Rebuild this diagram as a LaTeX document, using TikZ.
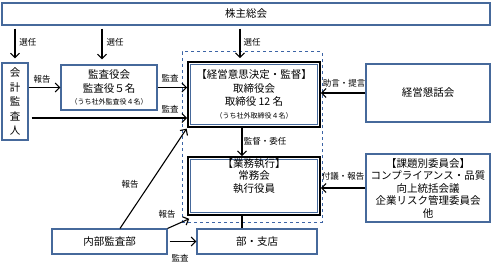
\documentclass[tikz,border=0pt]{standalone}
\usepackage{fontspec}
\setmainfont{Noto Sans CJK JP}
\usetikzlibrary{arrows.meta}
\definecolor{bx}{RGB}{70,105,155}
\definecolor{dsh}{RGB}{60,100,165}
\newcommand{\mf}{\fontsize{10.5}{13.5}\selectfont}
\newcommand{\sm}{\fontsize{7}{9}\selectfont}
\begin{document}
\begin{tikzpicture}[x=1pt,y=-1pt,
  box/.style={draw=bx, line width=1.1pt, fill=white, inner sep=0pt, align=center, font=\mf},
  dbl/.style={draw=black, line width=1.6pt, fill=white, inner sep=0pt, align=center, font=\mf},
  arr/.style={-{Straight Barb[length=4.5pt,width=9pt]}, line width=1.1pt},
  lab/.style={font=\fontsize{8.5}{10}\selectfont, inner sep=0.5pt}]
\useasboundingbox (0,0) rectangle (492,270);
% dashed region
\node[draw=dsh, dashed, line width=1pt, minimum width=140pt, minimum height=170pt, inner sep=0pt] (reg) at (252,137) {};
% boxes
\node[box, minimum width=488pt, minimum height=22pt] (kabu) at (246,14) {株主総会};
\node[box, minimum width=26pt, minimum height=77pt, font=\fontsize{10.5}{14.5}\selectfont] (kaikei) at (15,101.5) {会\\計\\監\\査\\人};
\node[box, minimum width=96pt, minimum height=45pt] (kansa) at (109,87.5) {監査役会\\監査役５名\\[-1pt]{\sm （うち社外監査役４名）}};
\node[dbl, minimum width=132pt, minimum height=65pt] (board) at (254,94.5) {【経営意思決定・監督】\\取締役会\\取締役 12 名\\[-1pt]{\sm （うち社外取締役４名）}};
\draw[bx, line width=0.9pt] ([shift={(3pt,3pt)}]board.south west) rectangle ([shift={(-3pt,-3pt)}]board.north east);
\node[dbl, minimum width=132pt, minimum height=58pt] (exec) at (254,186) {};
\draw[bx, line width=0.9pt] ([shift={(3pt,3pt)}]exec.south west) rectangle ([shift={(-3pt,-3pt)}]exec.north east);
\node[align=center, font=\fontsize{10.5}{12.5}\selectfont, inner sep=0pt] (exect) at (254,176) {【業務執行】\\常務会\\執行役員};
\node[box, minimum width=120pt, minimum height=25pt] (bu) at (257,241.5) {部・支店};
\node[box, minimum width=115pt, minimum height=25pt] (naibu) at (109.5,241.5) {内部監査部};
\node[box, minimum width=124pt, minimum height=58pt] (kondan) at (428,93) {経営懇話会};
\node[box, minimum width=124pt, minimum height=68pt, font=\fontsize{10.5}{12.5}\selectfont] (kadai) at (428,188) {【課題別委員会】\\コンプライアンス・品質\\向上統括会議\\企業リスク管理委員会\\他};
% election arrows
\coordinate (k2) at ([xshift=-7pt]kansa.north);
\coordinate (k3) at ([xshift=-14pt]board.north);
\draw[arr, shorten <=3pt, shorten >=4pt] (kabu.south -| kaikei.north) -- (kaikei.north);
\draw[arr, shorten <=3pt, shorten >=5pt] (kabu.south -| k2) -- (k2);
\draw[arr, shorten <=3pt, shorten >=3pt] (kabu.south -| k3) -- (k3);
\node[lab] (l1) at (28,42) {選任};
\node[lab] (l2) at (115,42) {選任};
\node[lab] (l3) at (252,42) {選任};
% reports / audits
\draw[arr] (kaikei.east |- kansa.west) -- (kansa.west);
\node[lab] (l4) at (42,79) {報告};
\draw[arr] (kansa.east) -- (kansa.east -| board.west);
\node[lab] (l5) at (170,78) {監査};
\coordinate (a2) at ([shift={(3pt,-16.5pt)}]kaikei.east);
\draw[arr] (a2) -- (a2 -| board.west);
\node[lab] (l6) at (170,109) {監査};
\draw[arr, shorten >=1pt] ([xshift=10.5pt]naibu.north) -- (board.south west);
\node[lab] (l7) at (130,184) {報告};
\draw[arr] (naibu.north east) -- ([shift={(2pt,-3pt)}]exec.south west);
\node[lab] (l8) at (167,214) {報告};
\draw[arr, shorten <=2pt] (naibu.east) -- (bu.west);
\node[lab] (l9) at (180,258) {監査};
\draw[arr] ([xshift=-12pt]board.south) -- ([xshift=-12pt]exec.north);
\node[lab] (l10) at (265,141) {監督・委任};
\coordinate (e1) at ([xshift=-12pt]exec.south);
\draw[line width=1.1pt] (e1) -- (e1 |- bu.north);
\draw[arr] (kondan.west) -- (kondan.west -| board.east);
\node[lab] (l11) at (344,83) {助言・提言};
\draw[arr] (kadai.west) -- (kadai.west -| exec.east);
\node[lab] (l12) at (343,176) {付議・報告};
\end{tikzpicture}
\end{document}
